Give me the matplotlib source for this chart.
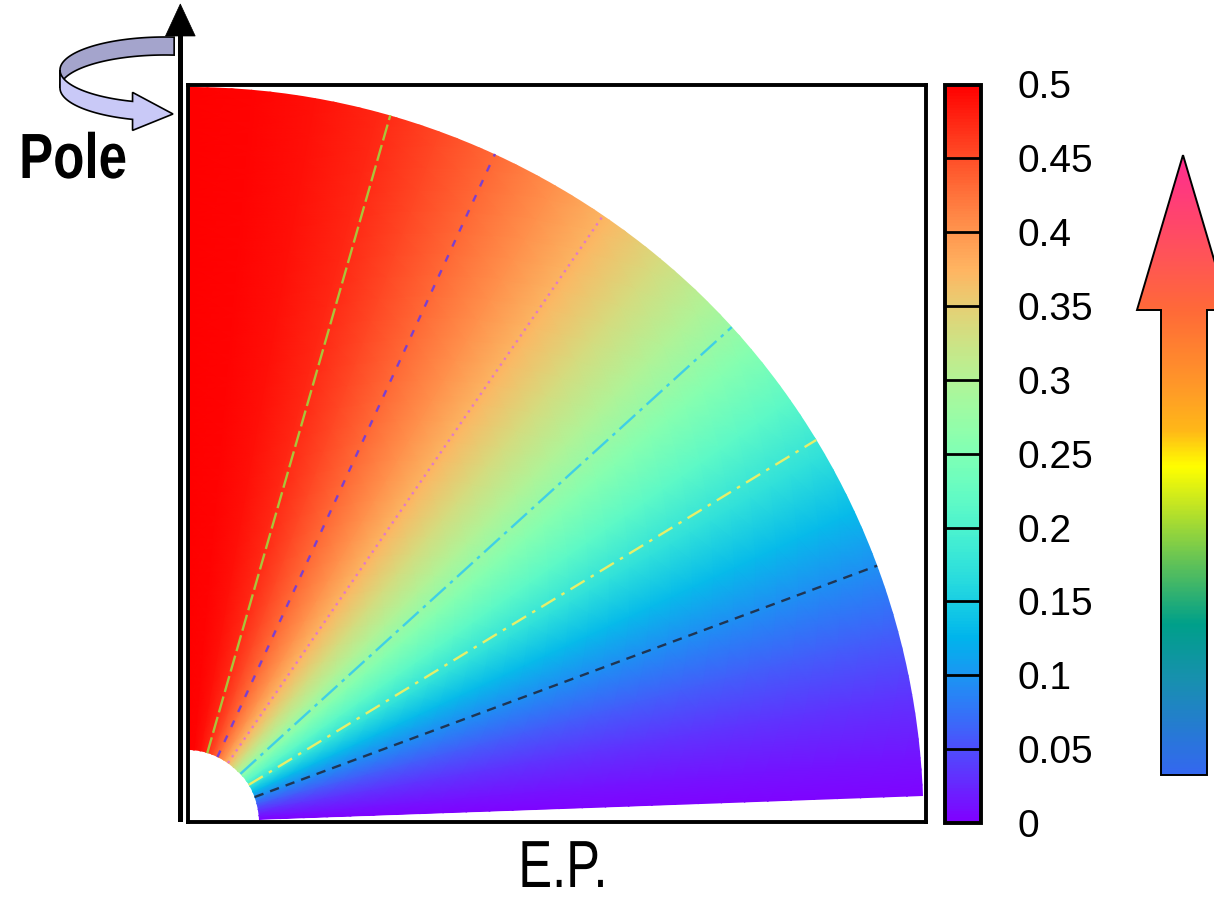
import numpy as np
import matplotlib
matplotlib.use("Agg")
import matplotlib.pyplot as plt
from matplotlib.patches import Polygon, Wedge
from matplotlib.colors import Normalize, LinearSegmentedColormap
from matplotlib.cm import ScalarMappable
from matplotlib.patheffects import AbstractPathEffect
from matplotlib.transforms import Affine2D

# ---------------- data ----------------
theta_deg = [2, 5, 10, 15, 20, 25, 30, 35, 40, 45, 50, 55, 60, 65, 70, 75, 80, 85, 90]
field_val = [0.003, 0.013, 0.035, 0.061, 0.093, 0.131, 0.173, 0.215, 0.257, 0.297,
             0.335, 0.371, 0.403, 0.431, 0.455, 0.475, 0.489, 0.497, 0.500]
line_angles = [20.4, 31.3, 42.3, 55.6, 65.3, 74.0]
line_colors = ['#1f3553', '#e6ee6a', '#3fcfe6', '#e27ac9', '#7b3fd0', '#a9c43a']
line_styles = [(0, (4, 3)), (0, (7, 3, 1.5, 3)), (0, (9, 2.5, 1.5, 2.5)),
               (0, (1, 2)), (0, (3, 4)), (0, (7, 2))]
cbar_ticks = [0, 0.05, 0.1, 0.15, 0.2, 0.25, 0.3, 0.35, 0.4, 0.45, 0.5]
cbar_labels = ['0', '0.05', '0.1', '0.15', '0.2', '0.25', '0.3', '0.35', '0.4', '0.45', '0.5']
r_inner, r_outer = 0.097, 0.997
x_label = 'E.P.'
pole_label = 'Pole'

plt.rcParams['font.family'] = ['Liberation Sans', 'DejaVu Sans']
W, H = 1214, 902
fig = plt.figure(figsize=(W / 100, H / 100), dpi=100)


class Condense(AbstractPathEffect):
    """Horizontally condense glyphs around a display-space point."""
    def __init__(self, sx, cx, cy):
        super().__init__()
        self.t = Affine2D().translate(-cx, -cy).scale(sx, 1.0).translate(cx, cy)

    def draw_path(self, renderer, gc, tpath, affine, rgbFace=None):
        renderer.draw_path(gc, tpath, affine + self.t, rgbFace)


# ---------------- main sector ----------------
ax = fig.add_axes([187.5 / W, (H - 822) / H, 738 / W, 737.5 / H])
th = np.radians(theta_deg)
rr = np.linspace(r_inner * 0.98, r_outer * 1.01, 30)
TH, RR = np.meshgrid(th, rr)
X = RR * np.cos(TH)
Y = RR * np.sin(TH)
C = np.tile(np.asarray(field_val), (len(rr), 1))
mesh = ax.pcolormesh(X, Y, C, shading='gouraud', cmap='rainbow', vmin=0, vmax=0.5)
wedge = Wedge((0, 0), r_outer, theta_deg[0], theta_deg[-1], width=r_outer - r_inner,
              facecolor='none', edgecolor='none', transform=ax.transData)
ax.add_patch(wedge)
mesh.set_clip_path(wedge)

for a, c, ls in zip(line_angles, line_colors, line_styles):
    t = np.radians(a)
    ax.plot([r_inner * np.cos(t), r_outer * np.cos(t)],
            [r_inner * np.sin(t), r_outer * np.sin(t)],
            color=c, ls=ls, lw=1.7)

ax.set_xlim(0, 1)
ax.set_ylim(0, 1)
ax.set_xticks([])
ax.set_yticks([])
for s in ax.spines.values():
    s.set_linewidth(2.8)
    s.set_color('black')

# ---------------- colorbar ----------------
cax = fig.add_axes([945 / W, (H - 823) / H, 36 / W, 738.5 / H])
sm = ScalarMappable(norm=Normalize(0, 0.5), cmap='rainbow')
cbar = fig.colorbar(sm, cax=cax, ticks=cbar_ticks)
cbar.ax.set_yticklabels(cbar_labels)
cbar.ax.tick_params(length=0, pad=26, labelsize=28)
cbar.outline.set_linewidth(2.8)
for t in cbar_ticks[1:-1]:
    cax.axhline(t, color='black', lw=2.0)

# ---------------- overlay decorations (pixel coordinates) ----------------
ov = fig.add_axes([0, 0, 1, 1], zorder=10)
ov.set_facecolor('none')
ov.axis('off')

# curved ribbon arrow around the pole
cx, cy, ea, eb, hh = 165, 70, 105, 33, 18
phi_b = np.radians(np.linspace(275, 180, 80))
top_b = np.c_[cx + ea * np.cos(phi_b), cy + eb * np.sin(phi_b)]
back_pts = np.vstack([top_b, (top_b + [0, hh])[::-1]])
ov.add_patch(Polygon(back_pts, closed=True, facecolor='#a4a4cc', edgecolor='black', lw=1.2, zorder=1))

# pole arrow (black)
ov.add_patch(Polygon([(177.5, 34), (183.3, 34), (183.3, 822), (177.5, 822)], closed=True,
                     facecolor='black', edgecolor='none', zorder=2))
ov.add_patch(Polygon([(165.5, 36), (195.2, 36), (180.3, 4)], closed=True,
                     facecolor='black', edgecolor='black', lw=0.5, zorder=2))

phi_f = np.radians(np.linspace(180, 108, 70))
top_f = np.c_[cx + ea * np.cos(phi_f), cy + eb * np.sin(phi_f)]
ex, ey = top_f[-1]
front_pts = np.vstack([top_f,
                       [[ex, ey - 9], [173, 114], [ex, ey + hh + 11]],
                       (top_f + [0, hh])[::-1]])
ov.add_patch(Polygon(front_pts, closed=True, facecolor='#c9c9f7', edgecolor='black', lw=1.2, zorder=3))

# labels (horizontally condensed like a narrow typeface)
px, py = 73, 178
ov.text(px, py, pole_label, ha='center', va='baseline', fontsize=46, fontweight='bold',
        zorder=4, path_effects=[Condense(0.80, px, H - py)])
qx, qy = 563, 887
ov.text(qx, qy, x_label, ha='center', va='baseline', fontsize=48,
        zorder=4, path_effects=[Condense(0.76, qx, H - qy)])

# rainbow gradient arrow on the right
pos = [0.0, 0.06, 0.15, 0.242, 0.356, 0.44, 0.497, 0.556, 0.624, 0.75, 1.0]
cols = ['#3468f0', '#2878d8', '#1890b0', '#00a08a', '#70c850', '#c8e820',
        '#ffff00', '#ffb818', '#ff9a28', '#ff6a38', '#ff2d90']
acmap = LinearSegmentedColormap.from_list('arrow', list(zip(pos, cols)))
ys = np.linspace(150, 780, 400)
p = np.clip((775 - ys) / 620.0, 0, 1)
grad = acmap(p)[:, None, :]
im = ov.imshow(grad, extent=[1130, 1240, 780, 150], aspect='auto', zorder=5, interpolation='bilinear')
arrow_pts = [(1183, 155), (1229, 310), (1207, 310), (1207, 775), (1161, 775), (1161, 310), (1137, 310)]
apoly = Polygon(arrow_pts, closed=True, facecolor='none', edgecolor='black', lw=1.4, zorder=6)
ov.add_patch(apoly)
im.set_clip_path(apoly)

ov.set_xlim(0, W)
ov.set_ylim(H, 0)

fig.savefig('out.png', dpi=100)
